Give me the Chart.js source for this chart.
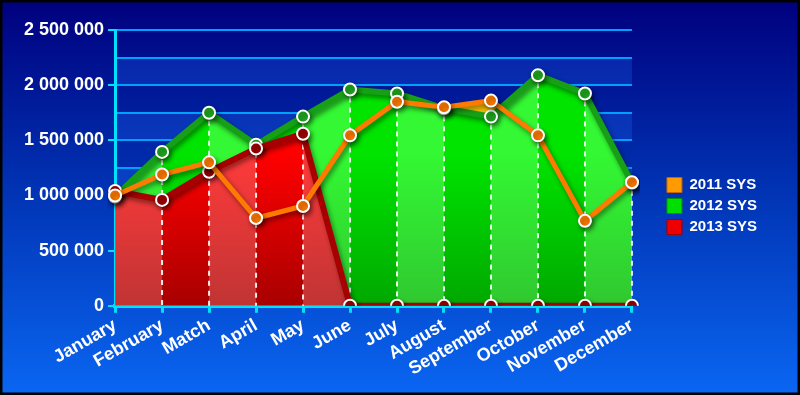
<!DOCTYPE html>
<html>
<head>
<meta charset="utf-8">
<script src="https://cdn.jsdelivr.net/npm/chart.js@4.4.1/dist/chart.umd.min.js"></script>
<style>
  html, body { margin: 0; padding: 0; background: #000; }
  #wrap { width: 800px; height: 395px; position: relative; }
</style>
</head>
<body>
<div id="wrap"><canvas id="myChart"></canvas></div>
<script>
const months = ['January', 'February', 'Match', 'April', 'May', 'June',
  'July', 'August', 'September', 'October', 'November', 'December'];
const sys2011 = [1000000, 1190000, 1300000, 795000, 905000, 1545000, 1850000, 1800000, 1860000, 1545000, 770000, 1120000];
const sys2012 = [990000, 1395000, 1750000, 1460000, 1715000, 1960000, 1925000, 1790000, 1715000, 2090000, 1925000, 1115000];
const sys2013 = [1040000, 960000, 1215000, 1425000, 1560000, 0, 0, 0, 0, 0, 0, 0];
const seriesNames = ['2011 SYS', '2012 SYS', '2013 SYS'];

const cyan = 'rgb(0,225,255)';
const gridBlue = 'rgb(0,160,255)';
const font = "'Liberation Sans', Arial, sans-serif";

// striped fill: even category bands light, odd bands dark, darker toward the bottom
function stripes(light, dark) {
  return function (ctx) {
    const chart = ctx.chart;
    const area = chart.chartArea;
    if (!area) return light[0];
    const x = chart.scales.x;
    const off = document.createElement('canvas');
    off.width = chart.width;
    off.height = chart.height;
    const o = off.getContext('2d');
    for (let i = 0; i < months.length - 1; i++) {
      const a = x.getPixelForValue(i);
      const b = x.getPixelForValue(i + 1);
      const cols = i % 2 === 0 ? light : dark;
      const g = o.createLinearGradient(0, area.top, 0, area.bottom);
      g.addColorStop(0, cols[0]);
      g.addColorStop(0.45, cols[0]);
      g.addColorStop(1, cols[1]);
      o.fillStyle = g;
      o.fillRect(a, 0, b - a + 0.5, area.bottom + 5);
    }
    return chart.ctx.createPattern(off, 'no-repeat');
  };
}

const bgPlugin = {
  id: 'bg',
  beforeDraw(chart) {
    const c = chart.ctx;
    const g = c.createLinearGradient(0, 0, 0, chart.height);
    g.addColorStop(0, '#00007e');
    g.addColorStop(0.45, '#0030b0');
    g.addColorStop(1, '#0a66f2');
    c.save();
    c.fillStyle = g;
    c.fillRect(0, 0, chart.width, chart.height);
    // lighter horizontal bands in the plot area
    const a = chart.chartArea;
    const y = chart.scales.y;
    c.fillStyle = 'rgba(30,110,255,0.25)';
    for (let v = 0; v < 2500000; v += 500000) {
      const top = y.getPixelForValue(v + 250000);
      const bot = y.getPixelForValue(v);
      c.fillRect(a.left, top, a.right - a.left, bot - top);
    }
    c.restore();
  },
  beforeDatasetsDraw(chart) {
    // dashed white lines under each category, over the filled areas
    const c = chart.ctx;
    const x = chart.scales.x;
    const y = chart.scales.y;
    c.save();
    c.strokeStyle = 'rgba(255,255,255,0.9)';
    c.lineWidth = 2;
    c.setLineDash([5, 5]);
    for (let i = 1; i < months.length; i++) {
      const top = Math.max(sys2012[i], sys2013[i]);
      const px = x.getPixelForValue(i);
      c.beginPath();
      c.moveTo(px, y.getPixelForValue(top) + 8);
      c.lineTo(px, y.getPixelForValue(0));
      c.stroke();
    }
    c.restore();
  },
  afterDraw(chart) {
    const c = chart.ctx;
    c.save();
    c.strokeStyle = '#000';
    c.lineWidth = 3;
    c.strokeRect(1, 1, chart.width - 2, chart.height - 2);
    c.restore();
  }
};

// drop shadow on the lines and points
const shadowPlugin = {
  id: 'shadow',
  beforeDatasetDraw(chart) {
    const c = chart.ctx;
    c.save();
    c.shadowColor = 'rgba(0,0,0,0.45)';
    c.shadowBlur = 5;
    c.shadowOffsetX = 2;
    c.shadowOffsetY = 3;
  },
  afterDatasetDraw(chart) {
    chart.ctx.restore();
  }
};

const legendColors = [['#ff9a00', '#c86400'], ['#00e000', '#009000'], ['#ee0000', '#990000']];

const data = {
  labels: months,
  datasets: [{
    label: seriesNames[0],
    data: sys2011,
    borderColor: '#ff7a00',
    borderWidth: 5,
    pointBackgroundColor: '#ff7a00',
    pointBorderColor: '#fff',
    pointBorderWidth: 2,
    pointRadius: 6,
    fill: false,
    order: 0
  }, {
    label: seriesNames[1],
    data: sys2012,
    borderColor: '#17a017',
    borderWidth: 6,
    backgroundColor: stripes(['#33f833', '#30c830'], ['#00e400', '#00a800']),
    pointBackgroundColor: '#1fa81f',
    pointBorderColor: '#fff',
    pointBorderWidth: 2,
    pointRadius: 6,
    fill: 'origin',
    order: 2
  }, {
    label: seriesNames[2],
    data: sys2013,
    borderColor: '#a80000',
    borderWidth: 6,
    backgroundColor: stripes(['#ff3a3a', '#c03434'], ['#ff0000', '#a80000']),
    pointBackgroundColor: '#a00000',
    pointBorderColor: '#fff',
    pointBorderWidth: 2,
    pointRadius: 6,
    fill: 'origin',
    order: 1
  }, {
    // 2011 area, only the fill, drawn behind the others
    label: '2011 fill',
    data: sys2011,
    borderWidth: 0,
    borderColor: 'rgba(0,0,0,0)',
    backgroundColor: '#ffc400',
    pointRadius: 0,
    fill: 'origin',
    order: 3
  }]
};

const config = {
  type: 'line',
  data: data,
  plugins: [bgPlugin, shadowPlugin],
  options: {
    responsive: true,
    maintainAspectRatio: false,
    animation: false,
    layout: { padding: { top: 30, left: 20, right: 33, bottom: 13 } },
    plugins: {
      filler: { drawTime: 'beforeDatasetsDraw' },
      tooltip: { enabled: false },
      legend: {
        position: 'right',
        align: 'center',
        fullSize: true,
        labels: {
          color: '#fff',
          font: { family: font, size: 15, weight: 'bold' },
          boxWidth: 15,
          boxHeight: 15,
          padding: 6,
          generateLabels: (chart) => seriesNames.map((name, i) => ({
            text: name,
            fillStyle: legendColors[i][0],
            strokeStyle: legendColors[i][1],
            lineWidth: 1,
            fontColor: '#fff',
            datasetIndex: i
          }))
        }
      }
    },
    scales: {
      x: {
        offset: false,
        grid: {
          drawOnChartArea: false,
          color: cyan,
          lineWidth: 3,
          tickLength: 7
        },
        border: { color: cyan, width: 4 },
        ticks: {
          color: '#fff',
          font: { family: font, size: 18, weight: 'bold' },
          autoSkip: false,
          minRotation: 30,
          maxRotation: 30,
          padding: 2
        }
      },
      y: {
        min: 0,
        max: 2500000,
        grid: {
          color: gridBlue,
          lineWidth: 2,
          tickLength: 7,
          tickColor: (c) => (c.tick && c.tick.value % 500000 === 0) ? cyan : 'rgba(0,0,0,0)'
        },
        border: { color: cyan, width: 3 },
        ticks: {
          stepSize: 250000,
          color: '#fff',
          font: { family: font, size: 18, weight: 'bold' },
          padding: 4,
          callback: (v) => v % 500000 === 0 ? String(v).replace(/\B(?=(\d{3})+(?!\d))/g, ' ') : ''
        }
      },
      // empty spacer between the plot and the legend
      gap: {
        position: 'right',
        display: true,
        grid: { display: false },
        border: { display: false },
        ticks: { display: false },
        afterFit: (scale) => { scale.width = 29; }
      }
    }
  }
};

const myChart = new Chart(document.getElementById('myChart'), config);
</script>
</body>
</html>
